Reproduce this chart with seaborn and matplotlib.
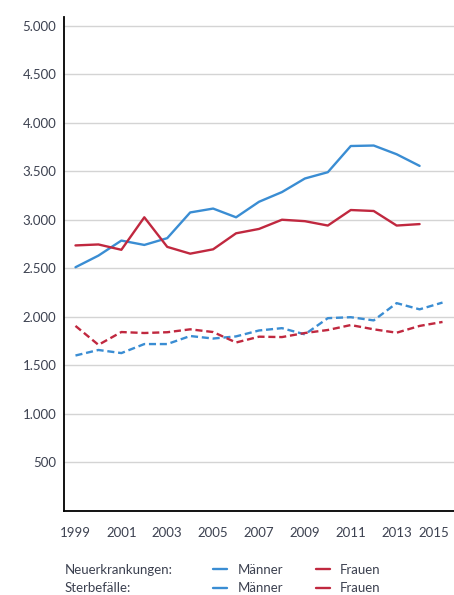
import numpy as np
import pandas as pd
import matplotlib
matplotlib.use("Agg")
import matplotlib.pyplot as plt
import matplotlib.transforms as mtransforms
import seaborn as sns
from matplotlib.lines import Line2D
from matplotlib.ticker import FuncFormatter

# Daten
years = list(range(1999, 2016))
maenner_neu = [2510, 2630, 2785, 2740, 2810, 3075, 3115, 3025, 3185, 3285,
               3425, 3490, 3760, 3765, 3675, 3555, np.nan]
frauen_neu = [2735, 2745, 2690, 3025, 2720, 2650, 2695, 2860, 2905, 3000,
              2985, 2940, 3100, 3090, 2940, 2955, np.nan]
maenner_tod = [1600, 1657, 1625, 1718, 1718, 1801, 1775, 1797, 1858, 1882,
               1818, 1985, 1995, 1962, 2140, 2076, 2146]
frauen_tod = [1905, 1710, 1842, 1832, 1840, 1870, 1842, 1734, 1794, 1790,
              1832, 1863, 1914, 1870, 1835, 1905, 1946]

y_ticks = [0, 500, 1000, 1500, 2000, 2500, 3000, 3500, 4000, 4500, 5000]
x_labels = [1999, 2001, 2003, 2005, 2007, 2009, 2011, 2013, 2015]

blau = "#3a8dd3"
rot = "#c0283f"
textfarbe = "#3c4150"

rows = []
for art, geschlecht, werte in [("Neuerkrankungen", "Männer", maenner_neu),
                               ("Neuerkrankungen", "Frauen", frauen_neu),
                               ("Sterbefälle", "Männer", maenner_tod),
                               ("Sterbefälle", "Frauen", frauen_tod)]:
    for j, w in zip(years, werte):
        rows.append({"Jahr": j, "Wert": w, "Art": art, "Geschlecht": geschlecht})
df = pd.DataFrame(rows).dropna()

sns.set_style("white")
plt.rcParams["font.family"] = ["Lato", "DejaVu Sans"]

fig = plt.figure(figsize=(4.54, 5.95), dpi=100)
ax = fig.add_axes([0.141, 0.1417, 0.859, 0.8297])

sns.lineplot(data=df, x="Jahr", y="Wert", hue="Geschlecht", style="Art",
             palette={"Männer": blau, "Frauen": rot},
             dashes={"Neuerkrankungen": "", "Sterbefälle": (3, 1.6)},
             linewidth=1.7, legend=False, ax=ax)

ax.set_xlim(1998.5, 2015.5)
ax.set_ylim(0, 5090)
ax.set_xlabel("")
ax.set_ylabel("")

# Gitter
ax.set_yticks(y_ticks)
ax.yaxis.set_major_formatter(FuncFormatter(
    lambda v, p: "" if v == 0 else f"{int(v):,}".replace(",", ".")))
ax.grid(axis="y", color="#d4d4d4", linewidth=1.0)
ax.set_axisbelow(True)

# x-Achse: Striche an geraden Jahren, Beschriftung an ungeraden
ax.set_xticks([1998.5, 2000, 2002, 2004, 2006, 2008, 2010, 2012, 2014])
ax.set_xticklabels([])
ax.set_xticks(x_labels, minor=True)
ax.set_xticklabels([str(j) for j in x_labels], minor=True)
ax.tick_params(axis="x", which="major", direction="out", length=6.5,
               width=1.2, color="black")
ax.tick_params(axis="x", which="minor", length=0, pad=12,
               labelsize=9.5, labelcolor=textfarbe)
ax.tick_params(axis="y", direction="out", length=3.5, width=1.2,
               color="black", labelsize=9.5, labelcolor=textfarbe, pad=2)

# letzte Jahreszahl etwas nach links, damit sie nicht abgeschnitten wird
lbl = ax.get_xticklabels(minor=True)[-1]
lbl.set_transform(lbl.get_transform() +
                  mtransforms.ScaledTranslation(-6 / 72, 0, fig.dpi_scale_trans))

for s in ["top", "right"]:
    ax.spines[s].set_visible(False)
for s in ["left", "bottom"]:
    ax.spines[s].set_color("black")
    ax.spines[s].set_linewidth(1.3)

# Legende
fig.text(0.143, 0.042, "Neuerkrankungen:", fontsize=9.5, color=textfarbe, va="center")
fig.text(0.143, 0.011, "Sterbefälle:", fontsize=9.5, color=textfarbe, va="center")
h = [Line2D([], [], color=blau, lw=1.7), Line2D([], [], color=rot, lw=1.7)]
for yy in [0.042, 0.011]:
    leg = fig.legend(h, ["Männer", "Frauen"], ncol=2, frameon=False,
                     loc="center left", bbox_to_anchor=(0.469, yy),
                     fontsize=9.5, handlelength=1.05, handletextpad=0.8,
                     columnspacing=2.5, labelcolor=textfarbe,
                     borderpad=0, borderaxespad=0)

fig.savefig("out.png", dpi=100)
